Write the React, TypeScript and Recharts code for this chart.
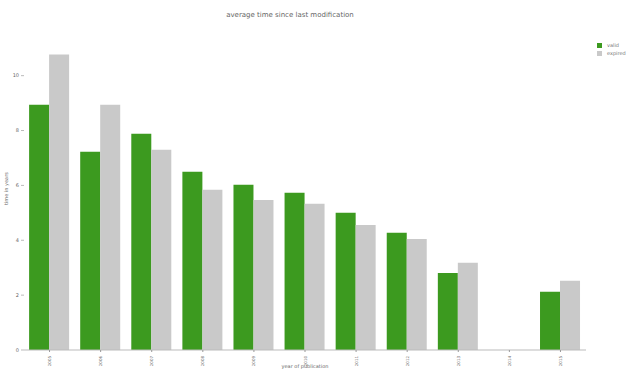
import React from 'react';
import { BarChart, Bar, XAxis, YAxis } from 'recharts';

const categories = ['2005', '2006', '2007', '2008', '2009', '2010', '2011', '2012', '2013', '2014', '2015'];
const validValues = [8.94, 7.23, 7.88, 6.5, 6.02, 5.73, 5.0, 4.27, 2.81, 0, 2.12];
const expiredValues = [10.77, 8.94, 7.3, 5.84, 5.47, 5.33, 4.56, 4.05, 3.18, 0, 2.52];
const yTicks = [0, 2, 4, 6, 8, 10];
const legendItems = ['valid', 'expired'];

const data = categories.map((c, i) => ({ name: c, valid: validValues[i], expired: expiredValues[i] }));

const GREEN = '#3c9a1f';
const GRAY = '#c9c9c9';
const COLORS = [GREEN, GRAY];
const FONT = '"DejaVu Sans", sans-serif';

const XTick = (props: any) => {
  const { x, y, payload } = props;
  return (
    <text x={x} y={y + 2} transform={`rotate(-90 ${x} ${y + 2})`} textAnchor="end" dominantBaseline="central" fontSize={4} fill="#666" fontFamily={FONT}>
      {payload.value}
    </text>
  );
};

export default function App() {
  return (
    <div style={{ position: 'absolute', left: 0, top: 0, width: 629, height: 370, background: '#fff' }}>
      <div style={{ position: 'absolute', top: 11, left: 0, width: 580, textAlign: 'center', fontFamily: FONT, fontSize: 7, color: '#666' }}>
        average time since last modification
      </div>
      <div style={{ position: 'absolute', top: 41, left: 597, fontFamily: FONT, fontSize: 5, color: '#777' }}>
        {legendItems.map((t, i) => (
          <div key={t} style={{ display: 'flex', alignItems: 'center', height: 8 }}>
            <span style={{ width: 5, height: 5, background: COLORS[i], display: 'inline-block', marginRight: 5 }} />
            <span>{t}</span>
          </div>
        ))}
      </div>
      <BarChart width={629} height={370} data={data} margin={{ top: 40, right: 43, left: 0, bottom: 0 }} barCategoryGap="10%" barGap={0}>
        <XAxis dataKey="name" height={20} tick={<XTick />} tickLine={{ stroke: '#999' }} tickSize={2} axisLine={{ stroke: '#bbb' }} interval={0}
          label={{ value: 'year of publication', position: 'insideBottom', offset: 2, fontSize: 5, fill: '#666', fontFamily: FONT }} />
        <YAxis width={24} domain={[0, 11.3]} ticks={yTicks} tick={{ fontSize: 5, fill: '#666', fontFamily: FONT }} tickSize={3} tickLine={{ stroke: '#bbb' }} axisLine={false}
          label={{ value: 'time in years', angle: -90, position: 'insideLeft', offset: 6, dy: 10, fontSize: 5, fill: '#666', fontFamily: FONT }} />
        <Bar dataKey="valid" fill={GREEN} isAnimationActive={false} />
        <Bar dataKey="expired" fill={GRAY} isAnimationActive={false} />
      </BarChart>
    </div>
  );
}
